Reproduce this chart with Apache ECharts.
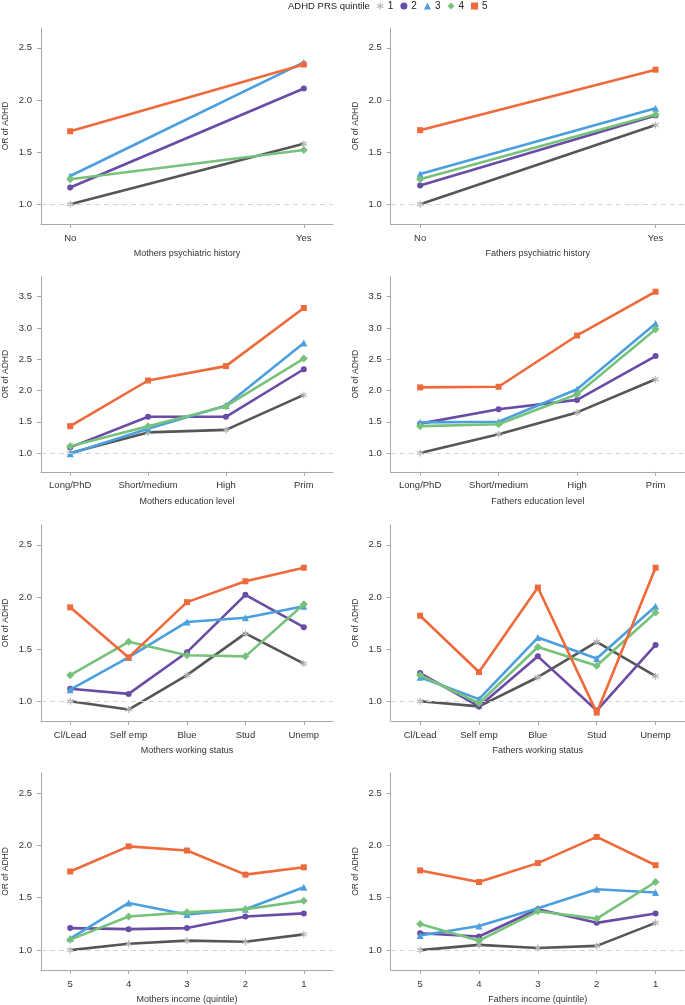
<!DOCTYPE html>
<html>
<head>
<meta charset="utf-8">
<title>OR of ADHD by ADHD PRS quintile</title>
<script src="https://cdn.jsdelivr.net/npm/echarts@6/dist/echarts.min.js"></script>
<style>
html, body { margin: 0; padding: 0; background: #fff; }
#main { width: 685px; height: 1005px; }
</style>
</head>
<body>
<div id="main"></div>
<script>
// legend names
var quintiles = ['1', '2', '3', '4', '5'];

// categories
var psychCats = ['No', 'Yes'];
var eduCats = ['Long/PhD', 'Short/medium', 'High', 'Prim'];
var workCats = ['Cl/Lead', 'Self emp', 'Blue', 'Stud', 'Unemp'];
var incomeCats = ['5', '4', '3', '2', '1'];

// y tick labels
var ticksLow = [1.0, 1.5, 2.0, 2.5];
var ticksHigh = [1.0, 1.5, 2.0, 2.5, 3.0, 3.5];

// OR of ADHD, one row per PRS quintile (1..5)
var momPsych = [
	[1.00, 1.58],
	[1.16, 2.11],
	[1.27, 2.36],
	[1.24, 1.52],
	[1.70, 2.34]
];
var dadPsych = [
	[1.00, 1.76],
	[1.18, 1.85],
	[1.29, 1.92],
	[1.24, 1.86],
	[1.71, 2.29]
];
var momEdu = [
	[1.00, 1.33, 1.37, 1.93],
	[1.09, 1.58, 1.58, 2.34],
	[0.99, 1.39, 1.76, 2.76],
	[1.11, 1.43, 1.75, 2.51],
	[1.43, 2.16, 2.39, 3.32]
];
var dadEdu = [
	[1.00, 1.30, 1.65, 2.18],
	[1.47, 1.70, 1.85, 2.55],
	[1.49, 1.50, 2.02, 3.07],
	[1.43, 1.46, 1.94, 2.98],
	[2.05, 2.06, 2.88, 3.58]
];
var momWork = [
	[1.00, 0.92, 1.25, 1.65, 1.36],
	[1.12, 1.07, 1.47, 2.02, 1.71],
	[1.11, 1.42, 1.76, 1.80, 1.91],
	[1.25, 1.57, 1.44, 1.43, 1.93],
	[1.90, 1.42, 1.95, 2.15, 2.28]
];
var dadWork = [
	[1.00, 0.95, 1.23, 1.57, 1.24],
	[1.27, 0.95, 1.43, 0.91, 1.54],
	[1.23, 1.02, 1.61, 1.41, 1.91],
	[1.25, 0.98, 1.52, 1.34, 1.85],
	[1.82, 1.28, 2.09, 0.89, 2.28]
];
var momInc = [
	[1.00, 1.06, 1.09, 1.08, 1.15],
	[1.21, 1.20, 1.21, 1.32, 1.35],
	[1.11, 1.45, 1.34, 1.39, 1.60],
	[1.10, 1.32, 1.36, 1.39, 1.47],
	[1.75, 1.99, 1.95, 1.72, 1.79]
];
var dadInc = [
	[1.00, 1.05, 1.02, 1.04, 1.26],
	[1.16, 1.13, 1.39, 1.26, 1.35],
	[1.14, 1.23, 1.40, 1.58, 1.55],
	[1.25, 1.09, 1.37, 1.30, 1.65],
	[1.76, 1.65, 1.83, 2.08, 1.81]
];

var font = "'Liberation Sans', Arial, sans-serif";
var asterisk = 'path://M-0.8,-5L0.8,-5L0.8,5L-0.8,5Z M3.93,-3.19L4.73,-1.81L-3.93,3.19L-4.73,1.81Z M-4.73,-1.81L-3.93,-3.19L4.73,1.81L3.93,3.19Z';

var lineColors = ['#565656', '#6a4ba6', '#4b9fdf', '#77c27a', '#ee6a3b'];
var markColors = ['#b4b4b4', '#6a4ba6', '#4b9fdf', '#77c27a', '#ee6a3b'];
var symbols = [asterisk, 'circle', 'triangle', 'diamond', 'rect'];
var symbolSizes = [7, 6, 7, 8, 6];

// layout of the 4 rows
var rows = [
	{ top: 28, height: 196, min: 0.81, max: 2.69, ticks: ticksLow },
	{ top: 276.7, height: 195.1, min: 0.7, max: 3.82, ticks: ticksHigh },
	{ top: 525, height: 196, min: 0.81, max: 2.69, ticks: ticksLow },
	{ top: 773, height: 197, min: 0.81, max: 2.69, ticks: ticksLow }
];
var colLeft = [38, 390.7];

var panels = [
	{ row: 0, col: 0, cats: psychCats, data: momPsych, title: 'Mothers psychiatric history' },
	{ row: 0, col: 1, cats: psychCats, data: dadPsych, title: 'Fathers psychiatric history' },
	{ row: 1, col: 0, cats: eduCats, data: momEdu, title: 'Mothers education level' },
	{ row: 1, col: 1, cats: eduCats, data: dadEdu, title: 'Fathers education level' },
	{ row: 2, col: 0, cats: workCats, data: momWork, title: 'Mothers working status' },
	{ row: 2, col: 1, cats: workCats, data: dadWork, title: 'Fathers working status' },
	{ row: 3, col: 0, cats: incomeCats, data: momInc, title: 'Mothers income (quintile)' },
	{ row: 3, col: 1, cats: incomeCats, data: dadInc, title: 'Fathers income (quintile)' }
];

var grids = [], xAxes = [], yAxes = [], series = [];
var axisColor = '#a8a8a8';

panels.forEach(function (p, i) {
	var r = rows[p.row];
	var n = p.cats.length;
	var pad = (n - 1) * 0.125;
	var idx = p.cats.map(function (c, k) { return k; });

	grids.push({ left: colLeft[p.col], top: r.top, width: 295, height: r.height });

	xAxes.push({
		type: 'value', gridIndex: i, min: -pad, max: n - 1 + pad,
		name: p.title, nameLocation: 'middle', nameGap: 25,
		nameTextStyle: { fontFamily: font, fontSize: 9, color: '#333' },
		axisLine: { onZero: false, lineStyle: { color: axisColor } },
		axisTick: { customValues: idx, length: 4, lineStyle: { color: axisColor } },
		axisLabel: {
			customValues: idx, margin: 9, fontFamily: font, fontSize: 9.5, color: '#333',
			formatter: function (v) { return p.cats[Math.round(v)]; }
		},
		splitLine: { show: false }
	});

	yAxes.push({
		type: 'value', gridIndex: i, min: r.min, max: r.max,
		name: 'OR of ADHD', nameLocation: 'middle', nameGap: 31,
		nameTextStyle: { fontFamily: font, fontSize: 8.5, color: '#333' },
		axisLine: { show: true, onZero: false, lineStyle: { color: axisColor } },
		axisTick: { show: true, customValues: r.ticks, length: 4, lineStyle: { color: axisColor } },
		axisLabel: {
			customValues: r.ticks, margin: 9, fontFamily: font, fontSize: 9.5, color: '#333',
			formatter: function (v) { return v.toFixed(1); }
		},
		splitLine: { show: false }
	});

	p.data.forEach(function (vals, q) {
		var s = {
			name: quintiles[q], type: 'line',
			xAxisIndex: i, yAxisIndex: i,
			data: vals.map(function (v, k) { return [k, v]; }),
			symbol: symbols[q], symbolSize: symbolSizes[q], showSymbol: true,
			lineStyle: { color: lineColors[q], width: 2.6 },
			itemStyle: { color: markColors[q] },
			z: 2 + q
		};
		if (q === 0) {
			// reference line at OR = 1
			s.markLine = {
				silent: true, symbol: 'none', label: { show: false },
				lineStyle: { color: '#d4d4d4', type: [5, 4], width: 1 },
				data: [{ yAxis: 1 }]
			};
		}
		series.push(s);
	});
});

var chart = echarts.init(document.getElementById('main'));
chart.setOption({
	animation: false,
	backgroundColor: '#fff',
	title: {
		text: 'ADHD PRS quintile', left: 288, top: 1, padding: 0,
		textStyle: { fontFamily: font, fontSize: 9.5, fontWeight: 'normal', color: '#222' }
	},
	legend: {
		left: 377, top: 1, padding: 0,
		itemWidth: 7, itemHeight: 7, itemGap: 7,
		textStyle: { fontFamily: font, fontSize: 10, color: '#222', padding: [0, 0, 0, -1] },
		data: quintiles.map(function (q, k) { return { name: q, icon: symbols[k] }; })
	},
	grid: grids,
	xAxis: xAxes,
	yAxis: yAxes,
	series: series
});
</script>
</body>
</html>
